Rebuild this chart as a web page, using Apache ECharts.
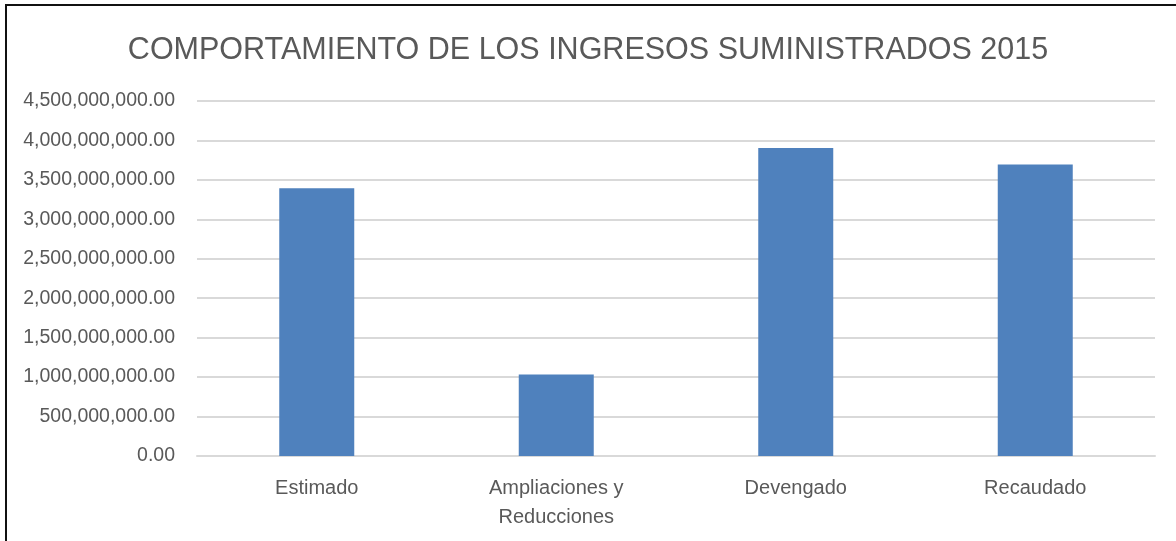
<!DOCTYPE html>
<html>
<head>
<meta charset="utf-8">
<script src="https://cdn.jsdelivr.net/npm/echarts@6/dist/echarts.min.js"></script>
<style>
  html, body { margin: 0; padding: 0; background: #fff; }
  .frame {
    position: absolute;
    left: 5px;
    top: 4px;
    width: 1171px;
    height: 537px;
    border-left: 2px solid #111;
    border-top: 2px solid #111;
    box-sizing: border-box;
  }
  #chart { position: absolute; left: 0; top: 0; width: 1176px; height: 541px; }
</style>
</head>
<body>
<div id="chart"></div>
<div class="frame"></div>
<script>
// datos del gráfico
const titulo = 'COMPORTAMIENTO DE LOS INGRESOS SUMINISTRADOS 2015'
const categorias = ['Estimado', 'Ampliaciones y\nReducciones', 'Devengado', 'Recaudado']
const montos = [3395000000, 1032000000, 3904000000, 3694000000]
const ejeMin = 0
const ejeMax = 4500000000
const ejeIntervalo = 500000000

const fuente = '"Liberation Sans Narrow", "Liberation Sans", Arial, sans-serif'
const gris = '#595959'

// 4500000000 -> 4,500,000,000.00
function formatoNumero (v) {
  const partes = v.toFixed(2).split('.')
  partes[0] = partes[0].replace(/\B(?=(\d{3})+(?!\d))/g, ',')
  return partes.join('.')
}

const chart = echarts.init(document.getElementById('chart'), null, { renderer: 'canvas' })
chart.setOption({
  animation: false,
  backgroundColor: '#fff',
  title: {
    text: titulo,
    left: 'center',
    top: 30,
    textStyle: {
      fontFamily: fuente,
      fontSize: 30.5,
      fontWeight: 'normal',
      color: gris
    }
  },
  grid: {
    left: 197,
    right: 21,
    top: 101,
    bottom: 85,
    containLabel: false
  },
  xAxis: {
    type: 'category',
    data: categorias,
    axisLine: { lineStyle: { color: '#D9D9D9', width: 2 } },
    axisTick: { show: false },
    axisLabel: {
      fontFamily: fuente,
      fontSize: 20,
      color: gris,
      margin: 18,
      lineHeight: 29
    }
  },
  yAxis: {
    type: 'value',
    min: ejeMin,
    max: ejeMax,
    interval: ejeIntervalo,
    axisLine: { show: false },
    axisTick: { show: false },
    splitLine: { lineStyle: { color: '#D9D9D9', width: 2 } },
    axisLabel: {
      fontFamily: fuente,
      fontSize: 19.5,
      color: gris,
      margin: 22,
      formatter: formatoNumero
    }
  },
  series: [
    {
      type: 'bar',
      data: montos,
      barWidth: 75,
      itemStyle: { color: '#4F81BD' }
    }
  ]
})
</script>
</body>
</html>
